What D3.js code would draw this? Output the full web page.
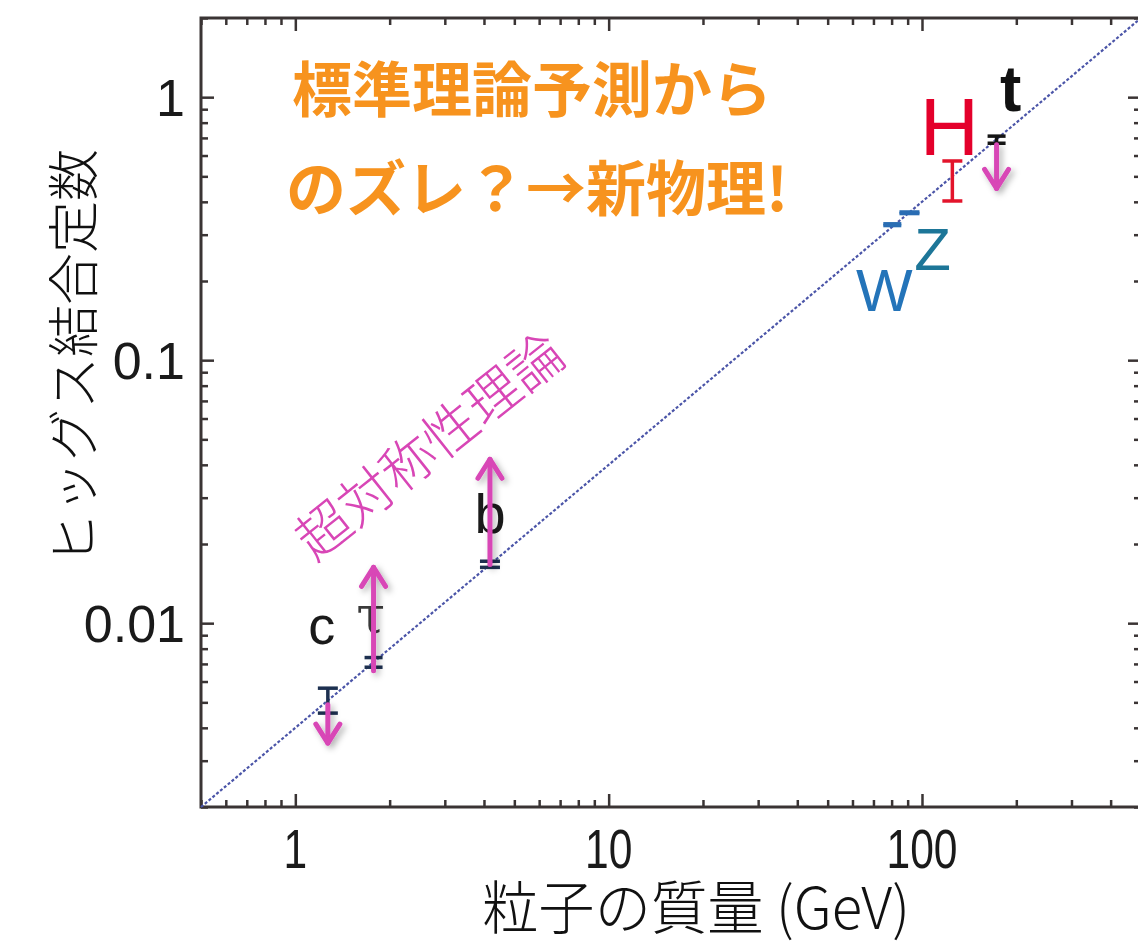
<!DOCTYPE html>
<html><head><meta charset="utf-8">
<script src="https://cdn.jsdelivr.net/npm/d3@7"></script>
<style>body{margin:0;background:#fff;} svg{display:block;}</style>
</head><body><svg id="chart" width="1138" height="945"></svg>
<script>
// ---- data ----
const particles = ["c", "τ", "b", "W", "Z", "H", "t"];
const masses = [1.27, 1.777, 4.18, 80.4, 91.2, 125, 173];
const couplingLow = [0.00455, 0.0068, 0.0163, 0.325, 0.361, 0.403, 0.668];
const couplingHigh = [0.00566, 0.0074, 0.0172, 0.330, 0.366, 0.572, 0.711];
const particleColors = ["#1d3050", "#1d3050", "#1d3050", "#2a6db3", "#2a6db3", "#e3142b", "#151515"];

const arrowParticles = ["c", "τ", "b", "t"];
const arrowMass = [1.27, 1.777, 4.18, 173];
const arrowFrom = [0.0049, 0.0066, 0.0167, 0.66];
const arrowTo = [0.0035, 0.0163, 0.042, 0.45];

const smLineMass = [0.5, 500];
const smLineCoupling = [0.002, 2];

const xTickValues = [1, 10, 100];
const xTickLabels = ["1", "10", "100"];
const yTickValues = [0.01, 0.1, 1];
const yTickLabels = ["0.01", "0.1", "1"];

const xTitle = "粒子の質量 (GeV)";
const yTitle = "ヒッグス結合定数";
const headline = ["標準理論予測から", "のズレ？→新物理!"];
const susyText = "超対称性理論";

// ---- layout ----
const L = 201, R = 1141, T = 18, B = 807;
const svg = d3.select("#chart");
const x = d3.scaleLog().domain([0.5, 500]).range([L, R]);
const y = d3.scaleLog().domain([0.002, 2]).range([B, T]);

const defs = svg.append("defs");
const f = defs.append("filter").attr("id", "shadow").attr("x", "-50%").attr("y", "-50%").attr("width", "200%").attr("height", "200%");
f.append("feDropShadow").attr("dx", 3).attr("dy", 3).attr("stdDeviation", 3).attr("flood-color", "#000").attr("flood-opacity", 0.3);

const axisColor = "#3a3434";
const xMinor = x.ticks().filter(v => !xTickValues.includes(v));
const yMinor = y.ticks().filter(v => !yTickValues.includes(v));

function styleAxis(g) {
  g.select(".domain").remove();
  g.selectAll("line").attr("stroke", axisColor).attr("stroke-width", 2.5);
}
// bottom
svg.append("g").attr("transform", `translate(0,${B})`).call(d3.axisBottom(x).tickValues(xMinor).tickSize(-7).tickFormat("")).call(styleAxis);
svg.append("g").attr("transform", `translate(0,${B})`).call(d3.axisBottom(x).tickValues(xTickValues).tickSize(-13).tickFormat("")).call(styleAxis);
// top
svg.append("g").attr("transform", `translate(0,${T})`).call(d3.axisTop(x).tickValues(xMinor).tickSize(-7).tickFormat("")).call(styleAxis);
svg.append("g").attr("transform", `translate(0,${T})`).call(d3.axisTop(x).tickValues(xTickValues).tickSize(-13).tickFormat("")).call(styleAxis);
// left
svg.append("g").attr("transform", `translate(${L},0)`).call(d3.axisLeft(y).tickValues(yMinor).tickSize(-7).tickFormat("")).call(styleAxis);
svg.append("g").attr("transform", `translate(${L},0)`).call(d3.axisLeft(y).tickValues(yTickValues).tickSize(-13).tickFormat("")).call(styleAxis);
// right
svg.append("g").attr("transform", `translate(${R},0)`).call(d3.axisRight(y).tickValues(yMinor).tickSize(-7).tickFormat("")).call(styleAxis);
svg.append("g").attr("transform", `translate(${R},0)`).call(d3.axisRight(y).tickValues(yTickValues).tickSize(-13).tickFormat("")).call(styleAxis);

// frame
svg.append("rect").attr("x", L).attr("y", T).attr("width", R - L).attr("height", B - T)
  .attr("fill", "none").attr("stroke", axisColor).attr("stroke-width", 3);

// tick labels
svg.append("g").selectAll("text").data(xTickValues).join("text")
  .attr("transform", d => `translate(${x(d)},868) scale(0.76,1)`)
  .attr("text-anchor", "middle")
  .attr("font-family", "Liberation Sans, Arial, sans-serif").attr("font-size", 56).attr("fill", "#1a1a1a")
  .text((d, i) => xTickLabels[i]);
svg.append("g").selectAll("text").data(yTickValues).join("text")
  .attr("x", 185).attr("y", d => y(d)).attr("dy", "0.36em")
  .attr("text-anchor", "end")
  .attr("font-family", "Liberation Sans, Arial, sans-serif").attr("font-size", 52).attr("fill", "#1a1a1a")
  .text((d, i) => yTickLabels[i]);

// axis titles
svg.append("text").attr("x", 482).attr("y", 929)
  .attr("textLength", 428).attr("lengthAdjust", "spacingAndGlyphs")
  .attr("font-family", "Noto Sans CJK JP, sans-serif").attr("font-weight", 300).attr("font-size", 58).attr("fill", "#111")
  .text(xTitle);
svg.append("text").attr("transform", "translate(70,357) rotate(-90)")
  .attr("text-anchor", "middle").attr("dominant-baseline", "central")
  .attr("font-family", "Noto Sans CJK JP, sans-serif").attr("font-weight", 300).attr("font-size", 52).attr("fill", "#111")
  .text(yTitle);

// SM line
svg.append("path")
  .attr("d", d3.line().x(d => x(d[0])).y(d => y(d[1]))(smLineMass.map((m, i) => [m, smLineCoupling[i]])))
  .attr("stroke", "#4b55a8").attr("stroke-width", 2.2).attr("stroke-dasharray", "3,2").attr("fill", "none");

// error bars
const capW = [20, 18, 20, 18, 20, 20, 18];
const eb = svg.append("g");
particles.forEach((p, i) => {
  const cx = x(masses[i]);
  const y1 = y(couplingLow[i]), y2 = y(couplingHigh[i]);
  eb.append("line").attr("x1", cx).attr("x2", cx).attr("y1", y1).attr("y2", y2)
    .attr("stroke", particleColors[i]).attr("stroke-width", 3.5);
  [y1, y2].forEach(yy => eb.append("line").attr("x1", cx - capW[i] / 2).attr("x2", cx + capW[i] / 2)
    .attr("y1", yy).attr("y2", yy).attr("stroke", particleColors[i]).attr("stroke-width", 3.5));
});

// particle labels
const labelSpec = {
  "c": {dx: -6, dy: -57, size: 54, family: "Liberation Sans, Arial, sans-serif", weight: 400, fill: "#1a1a1a"},
  "τ": {dx: -3, dy: -29, size: 52, family: "DejaVu Serif, serif", weight: 400, fill: "#3a3a3a"},
  "b": {dx: 0, dy: -31, size: 56, family: "Liberation Sans, Arial, sans-serif", weight: 400, fill: "#1a1a1a"},
  "W": {dx: -8, dy: 86, size: 60, family: "Liberation Sans, Arial, sans-serif", weight: 400, fill: "#2474b9"},
  "Z": {dx: 23, dy: 57, size: 60, family: "Liberation Sans, Arial, sans-serif", weight: 400, fill: "#1d7698"},
  "H": {dx: -3, dy: -26, size: 82, family: "Liberation Sans, Arial, sans-serif", weight: 400, fill: "#e4002b"},
  "t": {dx: 14, dy: -29, size: 64, family: "Liberation Sans, Arial, sans-serif", weight: 700, fill: "#111"}
};
const lab = svg.append("g");
particles.forEach((p, i) => {
  const s = labelSpec[p];
  const mid = Math.sqrt(couplingLow[i] * couplingHigh[i]);
  lab.append("text").attr("x", x(masses[i]) + s.dx).attr("y", y(mid) + s.dy)
    .attr("text-anchor", "middle").attr("font-family", s.family).attr("font-weight", s.weight)
    .attr("font-size", s.size).attr("fill", s.fill).text(p);
});

// pink arrows
const pink = "#d846b6";
const ag = svg.append("g").attr("filter", "url(#shadow)");
arrowParticles.forEach((p, i) => {
  const ax = x(arrowMass[i]);
  const ya = y(arrowFrom[i]), yb = y(arrowTo[i]);
  const s = yb < ya ? -1 : 1;
  ag.append("line").attr("x1", ax).attr("x2", ax).attr("y1", ya).attr("y2", yb)
    .attr("stroke", pink).attr("stroke-width", 5).attr("stroke-linecap", "round");
  ag.append("path").attr("d", `M${ax - 12},${yb - s * 19}L${ax},${yb}L${ax + 12},${yb - s * 19}`)
    .attr("stroke", pink).attr("stroke-width", 5).attr("fill", "none")
    .attr("stroke-linecap", "round").attr("stroke-linejoin", "round");
});

// annotations
const orange = "#f7931e";
svg.append("text").attr("x", 292).attr("y", 112)
  .attr("font-family", "Noto Sans CJK JP, sans-serif").attr("font-weight", 700).attr("font-size", 60).attr("fill", orange)
  .text(headline[0]);
svg.append("text").attr("x", 286).attr("y", 211)
  .attr("font-family", "Noto Sans CJK JP, sans-serif").attr("font-weight", 700).attr("font-size", 60).attr("fill", orange)
  .text(headline[1]);
svg.append("text").attr("transform", "translate(427,443) rotate(-38.5)")
  .attr("text-anchor", "middle").attr("dominant-baseline", "central")
  .attr("font-family", "Noto Sans CJK JP, sans-serif").attr("font-weight", 300).attr("font-size", 54).attr("fill", pink)
  .text(susyText);
</script></body></html>
